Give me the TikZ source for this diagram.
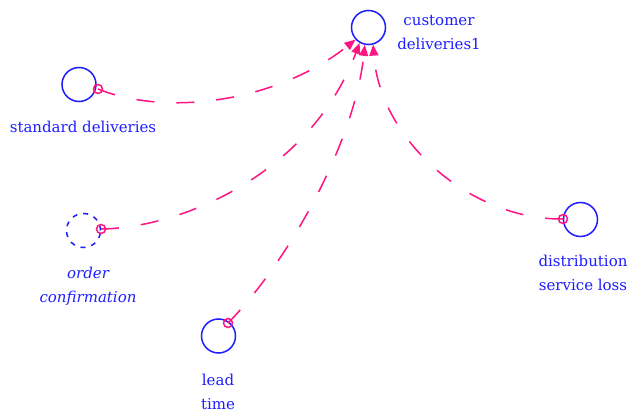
\documentclass[tikz,border=0pt]{standalone}
\usepackage{fontspec}
\setmainfont{DejaVu Serif}
\usetikzlibrary{arrows.meta}
\definecolor{vblue}{RGB}{30,30,255}
\definecolor{vpink}{RGB}{255,20,130}
\begin{document}
\begin{tikzpicture}[x=1pt,y=-1pt,
  var/.style={circle,draw=vblue,line width=1.5pt,minimum size=34pt,inner sep=0pt},
  ghostvar/.style={var,dash pattern=on 5pt off 6pt},
  src/.style={circle,draw=vpink,line width=1.5pt,minimum size=9pt,inner sep=0pt},
  lbl/.style={text=vblue,align=center,anchor=base,inner sep=0pt,font=\fontsize{15}{24}\selectfont},
  link/.style={draw=vpink,line width=1.5pt,dash pattern=on 18pt off 22pt,
    -{Triangle[length=11pt,width=9pt]}}]
\fill[white] (0,0) rectangle (629,417);
\useasboundingbox (0,0) rectangle (629,417);

% variables
\node[var] (cust) at (368.5,27.5) {};
\node[lbl] (custl) at (439,50) {customer\\deliveries1};

\node[var] (std) at (79,84.5) {};
\node[lbl] (stdl) at (83,133) {standard deliveries};

\node[ghostvar] (ord) at (83.5,230.5) {};
\node[lbl,font=\fontsize{15}{24}\selectfont\itshape] (ordl) at (88,302) {order\\confirmation};

\node[var] (dist) at (580.5,219.5) {};
\node[lbl] (distl) at (583,290) {distribution\\service loss};

\node[var] (lead) at (218.5,336) {};
\node[lbl] (leadl) at (218,409) {lead\\time};

% link origins
\node[src] (s1) at (98,89) {};
\node[src] (s2) at (101,229) {};
\node[src] (s3) at (563,219) {};
\node[src] (s4) at (228,323) {};

% links
\draw[link] (s1.center) .. controls (170,118) and (280,100) .. (cust.223);
\draw[link] (s2.center) .. controls (180,228) and (310,175) .. (cust.240);
\draw[link] (s4.center) .. controls (290,260) and (355,140) .. (cust.258);
\draw[link] (s3.center) .. controls (470,220) and (380,140) .. (cust.285);
\end{tikzpicture}
\end{document}
